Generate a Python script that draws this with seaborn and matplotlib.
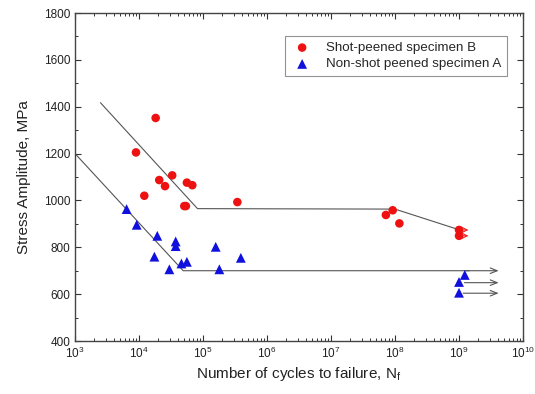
import numpy as np
import pandas as pd
import matplotlib
matplotlib.use("Agg")
import matplotlib.pyplot as plt
import seaborn as sns
from matplotlib.patches import FancyArrowPatch
from matplotlib.ticker import (FixedLocator, LogLocator, MultipleLocator,
                               NullFormatter, LogFormatterSciNotation)

# ---- data ----
b_cycles = [1.82e4, 8.97e3, 1.21e4, 2.07e4, 2.55e4, 3.3e4, 5.6e4, 6.8e4,
            3.44e5, 5.1e4, 5.4e4, 7.2e7, 9.2e7, 1.17e8, 1.0e9, 1.0e9]
b_stress = [1352, 1205, 1020, 1087, 1061, 1107, 1076, 1065,
            993, 976, 976, 938, 958, 902, 874, 849]

a_cycles = [6.4e3, 9.2e3, 1.93e4, 1.74e4, 2.98e4, 3.74e4, 3.74e4, 4.6e4,
            5.6e4, 1.58e5, 1.8e5, 3.9e5, 1.23e9, 1.0e9, 1.0e9]
a_stress = [963, 896, 849, 760, 706, 825, 805, 731,
            738, 802, 706, 755, 682, 652, 606]

b_fit_x = [2.5e3, 8.2e4, 1.0e8, 1.0e9]
b_fit_y = [1417, 965, 963, 875]
a_fit_x = [1.0e3, 4.9e4, 1.45e9]
a_fit_y = [1200, 700, 700]

a_run_start = [1.1e9, 1.1e9, 1.05e9]
a_run_end = [4.6e9, 4.6e9, 4.6e9]
a_run_y = [700, 649, 604]
b_run_start = [1.05e9, 1.05e9]
b_run_end = [1.55e9, 1.55e9]
b_run_y = [874, 849]

x_ticks = [1e3, 1e4, 1e5, 1e6, 1e7, 1e8, 1e9, 1e10]
y_ticks = [400, 600, 800, 1000, 1200, 1400, 1600, 1800]

label_b = "Shot-peened specimen B"
label_a = "Non-shot peened specimen A"

sns.set_style("ticks")
plt.rcParams["font.family"] = ["Liberation Sans", "DejaVu Sans"]

fig = plt.figure(figsize=(5.35, 3.94), dpi=100)
ax = fig.add_axes([0.1402, 0.1345, 0.8374, 0.8325])

df_b = pd.DataFrame({"N": b_cycles, "S": b_stress})
df_a = pd.DataFrame({"N": a_cycles, "S": a_stress})

sns.lineplot(x=b_fit_x, y=b_fit_y, ax=ax, color="#555555", lw=0.8,
             sort=False, estimator=None, legend=False)
sns.lineplot(x=a_fit_x, y=a_fit_y, ax=ax, color="#555555", lw=0.8,
             sort=False, estimator=None, legend=False)

for xs, xe, yy in zip(a_run_start, a_run_end, a_run_y):
    ax.add_patch(FancyArrowPatch((xs, yy), (xe, yy),
                                 arrowstyle="->,head_length=0.5,head_width=0.2",
                                 color="#555555", lw=0.8, mutation_scale=10))
for xs, xe, yy in zip(b_run_start, b_run_end, b_run_y):
    ax.add_patch(FancyArrowPatch((xs, yy), (xe, yy),
                                 arrowstyle="->,head_length=0.4,head_width=0.2",
                                 color="#ee2222", lw=0.8, mutation_scale=10))

sns.scatterplot(data=df_b, x="N", y="S", ax=ax, color="#ee1111", marker="o",
                s=38, edgecolor="none", label=label_b, zorder=3)
sns.scatterplot(data=df_a, x="N", y="S", ax=ax, color="#1111dd", marker="^",
                s=50, edgecolor="none", label=label_a, zorder=3)

ax.set_xscale("log")
ax.set_xlim(1e3, 1e10)
ax.set_ylim(400, 1800)
ax.xaxis.set_major_locator(FixedLocator(x_ticks))
ax.xaxis.set_major_formatter(LogFormatterSciNotation())
ax.xaxis.set_minor_locator(LogLocator(base=10, subs=np.arange(2, 10), numticks=100))
ax.xaxis.set_minor_formatter(NullFormatter())
ax.yaxis.set_major_locator(FixedLocator(y_ticks))
ax.yaxis.set_minor_locator(MultipleLocator(100))

ax.tick_params(which="both", direction="in", top=True, right=True,
               labelsize=8.5, colors="#333333", labelcolor="#222222")
ax.tick_params(which="major", length=4, width=0.8)
ax.tick_params(which="minor", length=2.5, width=0.7)
for sp in ax.spines.values():
    sp.set_color("#444444")
    sp.set_linewidth(1.0)

ax.set_xlabel(r"Number of cycles to failure, N$_\mathregular{f}$", fontsize=11,
              color="#222222", labelpad=3)
ax.set_ylabel("Stress Amplitude, MPa", fontsize=11, color="#222222", labelpad=9)

leg = ax.legend(loc="upper right", bbox_to_anchor=(0.98, 0.951), fontsize=9.6,
                frameon=True, fancybox=False, edgecolor="#777777",
                handletextpad=1.0, borderpad=0.45, labelspacing=0.3,
                handlelength=1.6)
leg.get_frame().set_linewidth(0.8)

fig.savefig("out.png", dpi=100)
